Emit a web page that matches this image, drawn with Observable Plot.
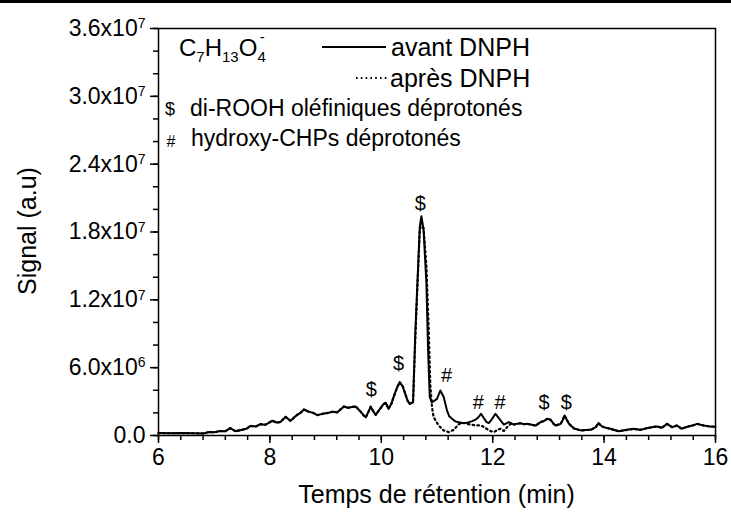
<!DOCTYPE html>
<html><head><meta charset="utf-8">
<script src="https://cdn.jsdelivr.net/npm/d3@7"></script>
<script src="https://cdn.jsdelivr.net/npm/@observablehq/plot@0.6"></script>
<style>
body{margin:0;background:#fff;}
#topbar{height:3px;background:#000;width:731px;}
#chart svg{display:block;}
</style></head><body>
<div id="topbar"></div>
<div id="chart"></div>
<script>
// Retention time (min) and signal (a.u), "avant DNPH"
const timeAvant = [6.00,6.20,6.40,6.60,6.81,6.90,7.00,7.11,7.20,7.29,7.38,7.50,7.58,7.65,7.75,7.83,7.92,8.04,8.12,8.19,8.28,8.37,8.49,8.55,8.61,8.70,8.78,8.85,8.97,9.05,9.12,9.21,9.33,9.40,9.45,9.54,9.63,9.68,9.72,9.77,9.81,9.86,9.90,9.96,10.04,10.08,10.13,10.18,10.22,10.28,10.33,10.38,10.43,10.47,10.51,10.57,10.61,10.66,10.69,10.72,10.76,10.81,10.84,10.87,10.91,10.96,11.00,11.06,11.12,11.18,11.22,11.27,11.33,11.39,11.45,11.51,11.56,11.63,11.69,11.74,11.79,11.84,11.89,11.93,11.98,12.05,12.10,12.14,12.20,12.29,12.38,12.45,12.50,12.56,12.62,12.70,12.77,12.86,12.93,12.98,13.04,13.09,13.13,13.22,13.26,13.29,13.33,13.37,13.46,13.58,13.67,13.76,13.85,13.90,13.95,13.99,14.11,14.26,14.41,14.53,14.65,14.80,14.95,15.04,15.13,15.22,15.31,15.39,15.51,15.60,15.67,15.79,15.90,16.00];
const signalAvant = [0.22e6,0.20e6,0.22e6,0.20e6,0.18e6,0.30e6,0.28e6,0.40e6,0.38e6,0.65e6,0.38e6,0.50e6,0.60e6,0.85e6,0.80e6,1.00e6,0.95e6,1.30e6,1.15e6,1.20e6,1.65e6,1.30e6,1.83e6,2.00e6,2.30e6,2.10e6,2.00e6,1.80e6,1.95e6,2.00e6,2.10e6,2.05e6,2.57e6,2.45e6,2.50e6,2.57e6,2.10e6,1.80e6,1.60e6,2.10e6,2.55e6,2.10e6,1.83e6,2.24e6,2.77e6,2.90e6,2.36e6,2.80e6,3.39e6,4.20e6,4.71e6,4.40e6,3.69e6,3.10e6,2.80e6,2.94e6,9.0e6,14.9e6,18.4e6,19.4e6,18.1e6,13.4e6,7.5e6,3.40e6,2.94e6,3.10e6,3.24e6,3.98e6,3.40e6,2.20e6,1.70e6,1.48e6,1.25e6,1.18e6,1.10e6,1.10e6,1.15e6,1.27e6,1.39e6,1.60e6,1.92e6,1.55e6,1.18e6,1.09e6,1.40e6,1.92e6,1.60e6,1.33e6,0.97e6,1.18e6,0.97e6,1.05e6,1.09e6,1.00e6,1.03e6,0.95e6,0.88e6,1.18e6,1.30e6,1.48e6,1.39e6,1.05e6,0.88e6,1.03e6,1.40e6,1.77e6,1.40e6,1.03e6,0.62e6,0.45e6,0.48e6,0.50e6,0.74e6,1.09e6,0.85e6,0.74e6,0.59e6,0.38e6,0.50e6,0.59e6,0.50e6,0.68e6,0.80e6,0.68e6,1.03e6,0.74e6,0.88e6,0.60e6,0.80e6,0.90e6,1.03e6,0.88e6,0.80e6,0.78e6];
// "après DNPH": segment where it departs from "avant DNPH"
const timeApres = [10.61,10.66,10.69,10.72,10.76,10.81,10.85,10.88,10.91,10.94,11.03,11.12,11.21,11.30,11.39,11.45,11.51,11.56,11.63,11.70,11.79,11.86,11.93,12.02,12.09,12.14,12.20,12.27,12.33];
const signalApres = [8.5e6,14.5e6,18.0e6,19.0e6,18.3e6,15.0e6,9.5e6,4.5e6,2.5e6,1.62e6,0.88e6,0.44e6,0.30e6,0.50e6,1.00e6,1.10e6,1.10e6,1.00e6,0.95e6,0.90e6,0.88e6,0.70e6,0.45e6,0.30e6,0.50e6,0.60e6,0.40e6,0.80e6,1.05e6];
// Peak annotations
const annotText = ["$","$","$","#","#","#","$","$"];
const annotTime = [9.82,10.31,10.70,11.17,11.74,12.13,12.92,13.32];
const annotSignal = [4.1e6,6.34e6,20.5e6,5.3e6,2.95e6,2.95e6,2.9e6,2.95e6];
// Axis ticks
const xTicks = [6,8,10,12,14,16];
const yTicks = [0,6e6,1.2e7,1.8e7,2.4e7,3.0e7,3.6e7];
const yTickLabels = ["0.0","6.0x10^6","1.2x10^7","1.8x10^7","2.4x10^7","3.0x10^7","3.6x10^7"];

const FONT = "'Liberation Sans', Arial, Helvetica, sans-serif";
const avant = timeAvant.map((t,i)=>({t, s:signalAvant[i]}));
const diff = timeApres.map((t,i)=>({t, s:signalApres[i]}));
const apres = [...avant.filter(d=>d.t<timeApres[0]), ...diff, ...avant.filter(d=>d.t>timeApres[timeApres.length-1])];
const annots = annotText.map((a,i)=>({a, t:annotTime[i], s:annotSignal[i]}));
const yLabelMap = new Map(yTicks.map((v,i)=>[v,yTickLabels[i]]));

const plot = Plot.plot({
  width:731, height:510,
  marginLeft:158, marginRight:16, marginTop:25, marginBottom:78,
  style:{fontFamily:FONT, color:"#000", background:"#fff", overflow:"visible"},
  x:{domain:[6,16]},
  y:{domain:[0,3.6e7]},
  marks:[
    Plot.axisX({ticks:d3.range(6,16.001,0.4), tickSize:5, tickFormat:()=>"", label:null, strokeWidth:1.5}),
    Plot.axisX({ticks:xTicks, tickSize:8, tickPadding:5, tickFormat:d=>String(d), label:null, fontSize:23, strokeWidth:1.5}),
    Plot.axisY({ticks:d3.range(0,3.6e7+1,2e6), tickSize:5, tickFormat:()=>"", label:null, strokeWidth:1.5}),
    Plot.axisY({ticks:yTicks, tickSize:8, tickPadding:5, tickFormat:d=>yLabelMap.get(d), label:null, fontSize:23, strokeWidth:1.5}),
    Plot.line(apres, {x:"t", y:"s", stroke:"#000", strokeWidth:2.2, strokeDasharray:"1.6,3.2"}),
    Plot.line(avant, {x:"t", y:"s", stroke:"#000", strokeWidth:2}),
    Plot.text(annots, {x:"t", y:"s", text:"a", fontSize:20, fill:"#000"}),
    Plot.frame({stroke:"#000", strokeWidth:1.5})
  ]
});
document.getElementById("chart").appendChild(plot);

const svg = d3.select(plot);
// superscripts on y tick labels
svg.selectAll('g[aria-label="y-axis tick label"] text').each(function(){
  const el = d3.select(this);
  const txt = el.text();
  if (txt.includes("^")) {
    const [base, exp] = txt.split("^");
    el.text(base);
    el.append("tspan").attr("dy","-0.55em").attr("font-size","14px").text(exp);
  }
});

// axis titles
svg.append("text").attr("transform","translate(36,228) rotate(-90)")
  .attr("text-anchor","middle").attr("font-family",FONT).attr("font-size",25).attr("fill","#000")
  .text("Signal (a.u)");
svg.append("text").attr("x",436.5).attr("y",500)
  .attr("text-anchor","middle").attr("font-family",FONT).attr("font-size",25).attr("fill","#000")
  .text("Temps de rétention (min)");

// legend
const lg = svg.append("g").attr("font-family",FONT).attr("fill","#000").attr("text-anchor","start");
const f = lg.append("text").attr("x",179).attr("y",53).attr("font-size",24).attr("text-anchor","start");
f.append("tspan").text("C");
f.append("tspan").attr("font-size",15).attr("dy",6).text("7");
f.append("tspan").attr("dy",-6).text("H");
f.append("tspan").attr("font-size",15).attr("dy",6).text("13");
f.append("tspan").attr("dy",-6).text("O");
f.append("tspan").attr("font-size",15).attr("dy",6).text("4");
f.append("tspan").attr("font-size",15).attr("dx",-6).attr("dy",-20).text("-");
lg.append("line").attr("x1",322).attr("x2",386).attr("y1",44).attr("y2",44).attr("stroke","#000").attr("stroke-width",2);
lg.append("text").attr("x",391).attr("y",53).attr("font-size",25).attr("text-anchor","start").text("avant DNPH");
lg.append("line").attr("x1",356).attr("x2",387).attr("y1",75).attr("y2",75).attr("stroke","#000").attr("stroke-width",2.2).attr("stroke-dasharray","1.6,3.2");
lg.append("text").attr("x",390).attr("y",84).attr("font-size",25).attr("text-anchor","start").text("après DNPH");
lg.append("text").attr("x",170).attr("y",112).attr("font-size",18).attr("text-anchor","middle").text("$");
lg.append("text").attr("x",190).attr("y",113).attr("font-size",23).attr("text-anchor","start").text("di-ROOH oléfiniques déprotonés");
lg.append("text").attr("x",171).attr("y",144).attr("font-size",16).attr("text-anchor","middle").text("#");
lg.append("text").attr("x",191).attr("y",143).attr("font-size",23).attr("text-anchor","start").text("hydroxy-CHPs déprotonés");
</script>
</body></html>
